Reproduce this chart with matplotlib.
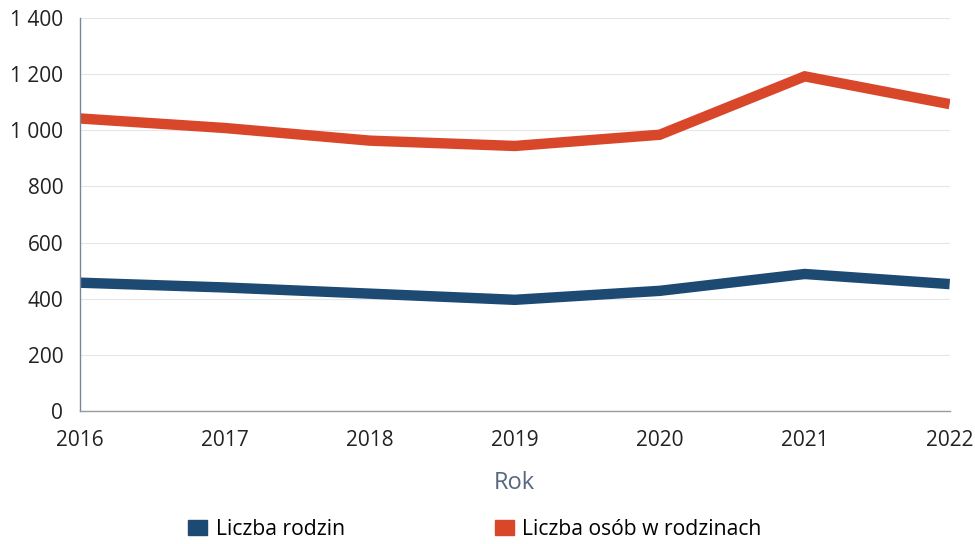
import matplotlib.pyplot as plt
from matplotlib.patches import Patch
from matplotlib.ticker import FuncFormatter

plt.rcParams["font.family"] = ["Open Sans", "DejaVu Sans"]

years = [2016, 2017, 2018, 2019, 2020, 2021, 2022]
families = [457, 440, 418, 396, 428, 488, 452]
persons = [1042, 1008, 963, 944, 984, 1192, 1093]

series_labels = ["Liczba rodzin", "Liczba osób w rodzinach"]
blue = "#1c4a73"
red = "#d9472b"

fig = plt.figure(figsize=(9.75, 5.44), dpi=100)
ax = fig.add_axes([0.082, 0.2445, 0.892, 0.7225])

ax.plot(years, families, color=blue, lw=7.5, solid_joinstyle="miter", solid_capstyle="butt")
ax.plot(years, persons, color=red, lw=7.5, solid_joinstyle="miter", solid_capstyle="butt")

ax.set_xlim(2016, 2022)
ax.set_ylim(0, 1400)
ax.set_yticks(range(0, 1401, 200))
ax.set_xticks(years)
ax.yaxis.set_major_formatter(FuncFormatter(lambda v, _: f"{int(v):,}".replace(",", " ")))
ax.grid(axis="y", color="#e6e6e6", lw=0.8)
ax.set_axisbelow(True)

for side in ("top", "right"):
    ax.spines[side].set_visible(False)
ax.spines["left"].set_color("#7a8699")
ax.spines["bottom"].set_color("#9a9a9a")
ax.spines["left"].set_linewidth(1.0)
ax.spines["bottom"].set_linewidth(1.0)
ax.tick_params(length=0, labelsize=15, colors="#222222")
ax.tick_params(axis="y", pad=12)
ax.tick_params(axis="x", pad=14)

ax.set_xlabel("Rok", fontsize=17, color="#56677f", labelpad=14)

handles = [Patch(color=blue), Patch(color=red)]
fig.legend(handles, series_labels, loc="center", bbox_to_anchor=(0.487, 0.027),
           ncol=2, frameon=False, fontsize=15.2, columnspacing=7.1,
           handlelength=0.9, handleheight=0.7, handletextpad=0.4)

fig.savefig("out.png", dpi=100)
